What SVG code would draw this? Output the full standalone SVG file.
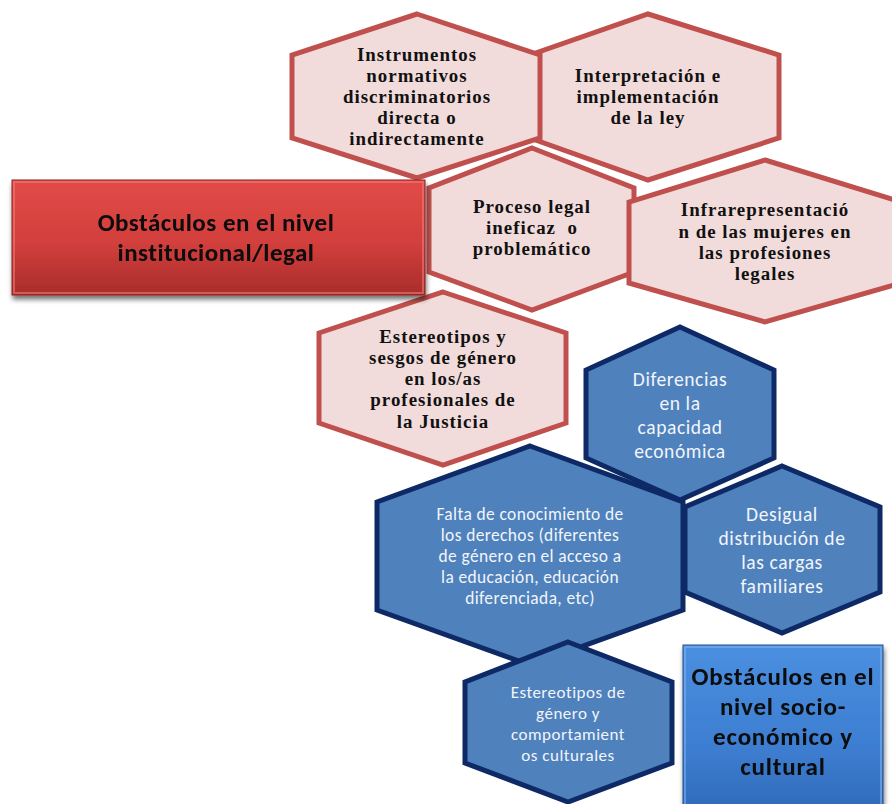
<svg xmlns="http://www.w3.org/2000/svg" width="892" height="804" viewBox="0 0 892 804">
  <defs>
    <linearGradient id="redFill" x1="0" y1="0" x2="0" y2="1">
      <stop offset="0" stop-color="#E24B48"/>
      <stop offset="0.55" stop-color="#D23F3C"/>
      <stop offset="1" stop-color="#A82C2B"/>
    </linearGradient>
    <linearGradient id="blueFill" x1="0" y1="0" x2="0" y2="1">
      <stop offset="0" stop-color="#4A8FE0"/>
      <stop offset="0.55" stop-color="#3E7FD2"/>
      <stop offset="1" stop-color="#2F68B8"/>
    </linearGradient>
    <filter id="shadow" x="-10%" y="-10%" width="125%" height="130%">
      <feGaussianBlur in="SourceAlpha" stdDeviation="2.5"/>
      <feOffset dx="1" dy="4" result="b"/>
      <feComponentTransfer><feFuncA type="linear" slope="0.55"/></feComponentTransfer>
      <feMerge><feMergeNode/><feMergeNode in="SourceGraphic"/></feMerge>
    </filter>
  </defs>
  <style>
    .hexR { fill: #F2DCDB; stroke: #C0504D; stroke-width: 5; stroke-linejoin: miter; }
    .hexB { fill: #4F81BD; stroke: #0E2A66; stroke-width: 5; stroke-linejoin: miter; }
    .tR { font-family: "Liberation Serif", "Times New Roman", serif; font-weight: bold; font-size: 18.9px; letter-spacing: 1px; fill: #111; text-anchor: middle; white-space: pre; }
    .tB { font-family: Carlito, Lato, "Liberation Sans", sans-serif; fill: #F2F5FA; text-anchor: middle; }
    .s1 { font-size: 17.4px; letter-spacing: 0.4px; }
    .s2 { font-size: 19.5px; letter-spacing: 0.6px; }
    .s3 { font-size: 17px; letter-spacing: 0.5px; }
    .tBox { font-family: Carlito, Lato, "Liberation Sans", sans-serif; font-weight: bold; font-size: 25px; fill: #0A0A0A; text-anchor: middle; }
  </style>

  <!-- institutional / legal obstacles -->
  <g id="hex-interpretacion">
    <polygon class="hexR" points="648,14 779,55 779,138 648,180 530,138 530,55"/>
    <text class="tR" x="648" y="82">Interpretación e</text>
    <text class="tR" x="648" y="103">implementación</text>
    <text class="tR" x="648" y="124">de la ley</text>
  </g>
  <g id="hex-instrumentos">
    <polygon class="hexR" points="417,14 540,55 540,138 417,178 292,138 292,55"/>
    <text class="tR" x="417" y="61">Instrumentos</text>
    <text class="tR" x="417" y="82">normativos</text>
    <text class="tR" x="417" y="103">discriminatorios</text>
    <text class="tR" x="417" y="124">directa o</text>
    <text class="tR" x="417" y="145">indirectamente</text>
  </g>
  <g id="hex-proceso">
    <polygon class="hexR" points="532,148 634,188 634,272 532,310 429,272 429,188"/>
    <text class="tR" x="532" y="213">Proceso legal</text>
    <text class="tR" x="532" y="234">ineficaz  o</text>
    <text class="tR" x="532" y="255">problemático</text>
  </g>
  <g id="hex-infrarepresentacion">
    <polygon class="hexR" points="765,160 901,202 901,283 765,322 629,283 629,202"/>
    <text class="tR" x="765" y="216">Infrarepresentació</text>
    <text class="tR" x="765" y="238">n de las mujeres en</text>
    <text class="tR" x="765" y="259">las profesiones</text>
    <text class="tR" x="765" y="280">legales</text>
  </g>
  <g id="hex-estereotipos-sesgos">
    <polygon class="hexR" points="443,292 566,333 566,423 443,465 319,423 319,333"/>
    <text class="tR" x="443" y="343">Estereotipos y</text>
    <text class="tR" x="443" y="364">sesgos de género</text>
    <text class="tR" x="443" y="385">en los/as</text>
    <text class="tR" x="443" y="406">profesionales de</text>
    <text class="tR" x="443" y="428">la Justicia</text>
  </g>
  <g id="box-institucional" filter="url(#shadow)">
    <rect x="12" y="180" width="413" height="115" fill="url(#redFill)" stroke="#8E2524" stroke-width="1"/>
    <rect x="14" y="182" width="409" height="111" fill="none" stroke="#F07A76" stroke-opacity="0.6" stroke-width="2"/>
    <text class="tBox" x="216" y="231" letter-spacing="0.5">Obstáculos en el nivel</text>
    <text class="tBox" x="216" y="261" letter-spacing="0.5">institucional/legal</text>
  </g>

  <!-- socio-economic / cultural obstacles -->
  <g id="hex-falta-conocimiento">
    <polygon class="hexB" points="530,446 683,502 683,610 530,665 377,610 377,502"/>
    <text class="tB s1" x="530" y="520">Falta de conocimiento de</text>
    <text class="tB s1" x="530" y="541">los derechos (diferentes</text>
    <text class="tB s1" x="530" y="562">de género en el acceso a</text>
    <text class="tB s1" x="530" y="583">la educación, educación</text>
    <text class="tB s1" x="530" y="604">diferenciada, etc)</text>
  </g>
  <g id="hex-diferencias">
    <polygon class="hexB" points="680,327 774,370 774,458 680,500 586,458 586,370"/>
    <text class="tB s2" x="680" y="386">Diferencias</text>
    <text class="tB s2" x="680" y="410">en la</text>
    <text class="tB s2" x="680" y="434">capacidad</text>
    <text class="tB s2" x="680" y="458">económica</text>
  </g>
  <g id="hex-desigual">
    <polygon class="hexB" points="782,466 880,507 880,592 782,633 685,592 685,507"/>
    <text class="tB s2" x="782" y="521">Desigual</text>
    <text class="tB s2" x="782" y="545">distribución de</text>
    <text class="tB s2" x="782" y="569">las cargas</text>
    <text class="tB s2" x="782" y="593">familiares</text>
  </g>
  <g id="hex-estereotipos-genero">
    <polygon class="hexB" points="568,642 672,682 672,763 568,802 465,763 465,682"/>
    <text class="tB s3" x="568" y="698">Estereotipos de</text>
    <text class="tB s3" x="568" y="719">género y</text>
    <text class="tB s3" x="568" y="740">comportamient</text>
    <text class="tB s3" x="568" y="761">os culturales</text>
  </g>
  <g id="box-socioeconomico" filter="url(#shadow)">
    <rect x="683" y="645" width="200" height="175" fill="url(#blueFill)" stroke="#24548F" stroke-width="1"/>
    <rect x="685" y="647" width="196" height="171" fill="none" stroke="#7FB0EE" stroke-opacity="0.6" stroke-width="2"/>
    <text class="tBox" x="783" y="685" letter-spacing="0.8">Obstáculos en el</text>
    <text class="tBox" x="783" y="715" letter-spacing="0.8">nivel socio-</text>
    <text class="tBox" x="783" y="745" letter-spacing="0.8">económico y</text>
    <text class="tBox" x="783" y="775" letter-spacing="0.8">cultural</text>
  </g>

  <!-- no connectors are drawn between these shapes -->
  <g id="connectors"/>
</svg>
